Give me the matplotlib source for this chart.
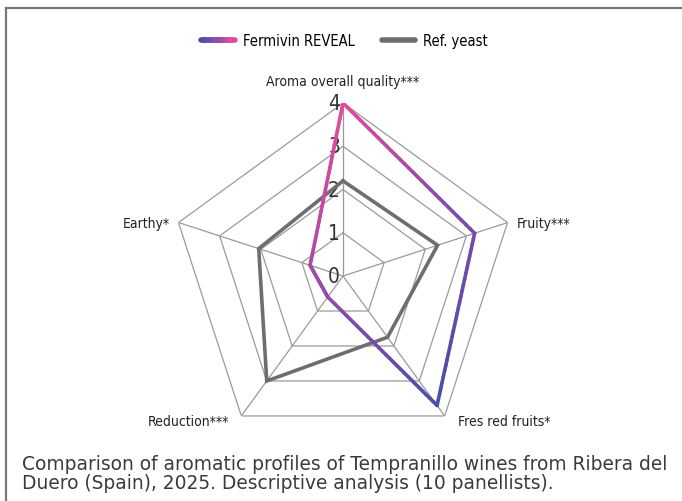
import numpy as np
import matplotlib
matplotlib.use('Agg')
import matplotlib.pyplot as plt
from matplotlib.collections import LineCollection
from matplotlib.colors import LinearSegmentedColormap
from matplotlib.legend_handler import HandlerBase
from matplotlib.lines import Line2D

categories = ['Aroma overall quality***', 'Fruity***', 'Fres red fruits*', 'Reduction***', 'Earthy*']
fermivin = [4.0, 3.2, 3.7, 0.6, 0.8]
ref_yeast = [2.2, 2.3, 1.75, 3.0, 2.05]
rings = [0, 1, 2, 3, 4]

narrow = dict(family='DejaVu Sans', stretch='condensed')

grad = LinearSegmentedColormap.from_list('rev', ['#4a4ea8', '#8a4aa9', '#e44b9c'])
grey = '#6d6e71'

fig = plt.figure(figsize=(6.82, 5.02), dpi=100)
ax = fig.add_axes([0.2493, 0.1036, 0.5073, 0.6892], projection='polar')
ax.set_theta_offset(np.pi / 2)
ax.set_theta_direction(-1)
ax.set_ylim(0, 4)
ax.grid(False)
ax.set_xticks([])
ax.set_yticks([])
ax.spines['polar'].set_visible(False)

n = len(categories)
theta = np.arange(n) * 2 * np.pi / n
tc = np.append(theta, theta[0])

# pentagon grid + spokes
for r in rings[1:]:
    ax.plot(tc, [r] * (n + 1), color='#9a9a9a', lw=0.9, zorder=1)
for t in theta:
    ax.plot([t, t], [0, rings[-1]], color='#9a9a9a', lw=0.9, zorder=1)

# tick numbers
for r in rings:
    ax.annotate(str(r), (0, r), xytext=(-3, 0), textcoords='offset pixels',
                ha='right', va='center', fontsize=15, color='#333333', **narrow)

# category labels
offs = [(0, 22, 'center'), (9, 0, 'left'), (13, -5, 'left'), (-12, -5, 'right'), (-9, 0, 'right')]
for t, lab, (dx, dy, ha) in zip(theta, categories, offs):
    ax.annotate(lab, (t, rings[-1]), xytext=(dx, dy), textcoords='offset pixels',
                ha=ha, va='center', fontsize=10, color='#222222', **narrow)

# ref yeast
ax.plot(tc, ref_yeast + ref_yeast[:1], color=grey, lw=2.6, solid_joinstyle='miter', zorder=3)

# fermivin with diagonal gradient (pink top-left -> blue bottom-right)
vals = np.array(fermivin + fermivin[:1])
xs = vals * np.sin(tc)
ys = vals * np.cos(tc)
s_all = xs - ys
smin, smax = s_all.min(), s_all.max()
segs, cols = [], []
for i in range(n):
    for k in range(30):
        a, b = k / 30, (k + 1) / 30
        x0, y0 = xs[i] + (xs[i + 1] - xs[i]) * a, ys[i] + (ys[i + 1] - ys[i]) * a
        x1, y1 = xs[i] + (xs[i + 1] - xs[i]) * b, ys[i] + (ys[i + 1] - ys[i]) * b
        segs.append([(np.arctan2(x0, y0), np.hypot(x0, y0)), (np.arctan2(x1, y1), np.hypot(x1, y1))])
        cols.append(grad(1 - ((x0 + x1 - y0 - y1) / 2 - smin) / (smax - smin)))
ax.add_collection(LineCollection(segs, colors=cols, linewidths=2.6, capstyle='round', zorder=4))


class GradHandler(HandlerBase):
    def create_artists(self, legend, orig, xd, yd, w, h, fontsize, trans):
        x = np.linspace(-xd, -xd + w, 20)
        y = np.full_like(x, -yd + h / 2)
        pts = np.array([x, y]).T.reshape(-1, 1, 2)
        s = np.concatenate([pts[:-1], pts[1:]], axis=1)
        lc = LineCollection(s, colors=[grad(v) for v in np.linspace(0, 1, len(s))],
                            linewidths=4, capstyle='round', transform=trans)
        return [lc]


h1 = Line2D([], [])
h2 = Line2D([], [], color=grey, lw=4, solid_capstyle='round')
fig.legend([h1, h2], ['Fermivin REVEAL', 'Ref. yeast'], handler_map={h1: GradHandler()},
           loc='center', bbox_to_anchor=(0.505, 0.918), ncol=2, frameon=False,
           prop={'family': 'DejaVu Sans', 'stretch': 'condensed', 'size': 10.5},
           handlelength=2.3, columnspacing=1.85, handletextpad=0.55)

# frame lines
fig.add_artist(Line2D([6 / 682, 1], [1 - 9 / 502, 1 - 9 / 502], transform=fig.transFigure, color='#737979', lw=1.6))
fig.add_artist(Line2D([6 / 682, 6 / 682], [0, 1 - 9 / 502], transform=fig.transFigure, color='#737979', lw=1.6))

fig.text(22 / 682, 1 - 474 / 502,
         'Comparison of aromatic profiles of Tempranillo wines from Ribera del\n'
         'Duero (Spain), 2025. Descriptive analysis (10 panellists).',
         ha='left', va='center', fontsize=13.4, family='DejaVu Sans', color='#3a3a3a', linespacing=1.05)

fig.savefig('out.png', dpi=100)
